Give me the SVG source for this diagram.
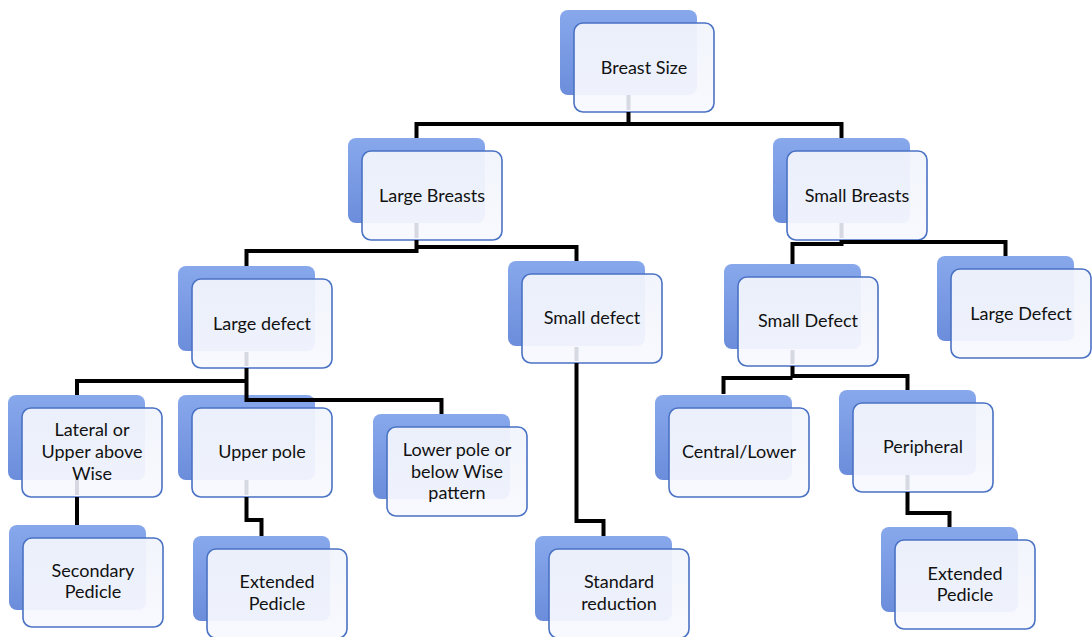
<svg xmlns="http://www.w3.org/2000/svg" width="1092" height="637" viewBox="0 0 1092 637">
<defs>
<linearGradient id="gBack" x1="0" y1="0" x2="0" y2="1">
<stop offset="0" stop-color="#88a8ec"/>
<stop offset="1" stop-color="#6b8ddb"/>
</linearGradient>
<linearGradient id="gFront" x1="0" y1="0" x2="0" y2="1">
<stop offset="0" stop-color="#f1f4fc"/>
<stop offset="1" stop-color="#f8f9fe"/>
</linearGradient>
</defs>
<style>
.back{fill:url(#gBack);}
.front{fill:url(#gFront);fill-opacity:0.94;stroke:#4a72c4;stroke-width:1.6;}
.t{font-family:Lato,"Liberation Sans",sans-serif;font-size:18px;fill:#111111;text-anchor:middle;}
.c{fill:none;stroke:#000;stroke-width:4;stroke-linejoin:miter;}
.f{fill:none;stroke:#d6d9e2;stroke-width:4;}
</style>
<rect width="1092" height="637" fill="#ffffff"/>

<g id="n-breast-size" transform="translate(574,23)">
<rect class="back" x="-14" y="-13" width="137" height="85" rx="8"/>
<rect class="front" x="0" y="0" width="140" height="89" rx="9"/>
<text class="t" x="70" y="51">Breast Size</text>
</g>
<g id="n-large-breasts" transform="translate(362,151)">
<rect class="back" x="-14" y="-13" width="137" height="85" rx="8"/>
<rect class="front" x="0" y="0" width="140" height="89" rx="9"/>
<text class="t" x="70" y="51">Large Breasts</text>
</g>
<g id="n-small-breasts" transform="translate(787,151)">
<rect class="back" x="-14" y="-13" width="137" height="85" rx="8"/>
<rect class="front" x="0" y="0" width="140" height="89" rx="9"/>
<text class="t" x="70" y="51">Small Breasts</text>
</g>
<g id="n-large-defect-l" transform="translate(192,279)">
<rect class="back" x="-14" y="-13" width="137" height="85" rx="8"/>
<rect class="front" x="0" y="0" width="140" height="89" rx="9"/>
<text class="t" x="70" y="51">Large defect</text>
</g>
<g id="n-small-defect-l" transform="translate(522,274)">
<rect class="back" x="-14" y="-13" width="137" height="85" rx="8"/>
<rect class="front" x="0" y="0" width="140" height="89" rx="9"/>
<text class="t" x="70" y="50">Small defect</text>
</g>
<g id="n-small-defect-r" transform="translate(738,277)">
<rect class="back" x="-14" y="-13" width="137" height="85" rx="8"/>
<rect class="front" x="0" y="0" width="140" height="89" rx="9"/>
<text class="t" x="70" y="50">Small Defect</text>
</g>
<g id="n-large-defect-r" transform="translate(951,269)">
<rect class="back" x="-14" y="-13" width="137" height="85" rx="8"/>
<rect class="front" x="0" y="0" width="140" height="89" rx="9"/>
<text class="t" x="70" y="51">Large Defect</text>
</g>
<g id="n-lateral" transform="translate(22,408)">
<rect class="back" x="-14" y="-13" width="137" height="85" rx="8"/>
<rect class="front" x="0" y="0" width="140" height="89" rx="9"/>
<text class="t" x="70" y="28">Lateral or</text>
<text class="t" x="70" y="50">Upper above</text>
<text class="t" x="70" y="72">Wise</text>
</g>
<g id="n-upper-pole" transform="translate(192,408)">
<rect class="back" x="-14" y="-13" width="137" height="85" rx="8"/>
<rect class="front" x="0" y="0" width="140" height="89" rx="9"/>
<text class="t" x="70" y="50">Upper pole</text>
</g>
<g id="n-lower-pole" transform="translate(387,427)">
<rect class="back" x="-14" y="-13" width="137" height="85" rx="8"/>
<rect class="front" x="0" y="0" width="140" height="89" rx="9"/>
<text class="t" x="70" y="29">Lower pole or</text>
<text class="t" x="70" y="51">below Wise</text>
<text class="t" x="70" y="72">pattern</text>
</g>
<g id="n-central-lower" transform="translate(669,408)">
<rect class="back" x="-14" y="-13" width="137" height="85" rx="8"/>
<rect class="front" x="0" y="0" width="140" height="89" rx="9"/>
<text class="t" x="70" y="50">Central/Lower</text>
</g>
<g id="n-peripheral" transform="translate(853,403)">
<rect class="back" x="-14" y="-13" width="137" height="85" rx="8"/>
<rect class="front" x="0" y="0" width="140" height="89" rx="9"/>
<text class="t" x="70" y="50">Peripheral</text>
</g>
<g id="n-secondary-pedicle" transform="translate(23,538)">
<rect class="back" x="-14" y="-13" width="137" height="85" rx="8"/>
<rect class="front" x="0" y="0" width="140" height="89" rx="9"/>
<text class="t" x="70" y="39">Secondary</text>
<text class="t" x="70" y="60">Pedicle</text>
</g>
<g id="n-extended-pedicle-l" transform="translate(207,549)">
<rect class="back" x="-14" y="-13" width="137" height="85" rx="8"/>
<rect class="front" x="0" y="0" width="140" height="89" rx="9"/>
<text class="t" x="70" y="39">Extended</text>
<text class="t" x="70" y="61">Pedicle</text>
</g>
<g id="n-standard-reduction" transform="translate(549,549)">
<rect class="back" x="-14" y="-13" width="137" height="85" rx="8"/>
<rect class="front" x="0" y="0" width="140" height="89" rx="9"/>
<text class="t" x="70" y="39">Standard</text>
<text class="t" x="70" y="61">reduction</text>
</g>
<g id="n-extended-pedicle-r" transform="translate(895,540)">
<rect class="back" x="-14" y="-13" width="137" height="85" rx="8"/>
<rect class="front" x="0" y="0" width="140" height="89" rx="9"/>
<text class="t" x="70" y="40">Extended</text>
<text class="t" x="70" y="61">Pedicle</text>
</g>

<g id="connectors">
<path class="f" d="M628.5,95 V110 M416.5,223 V238 M841.5,223 V238 M246.5,352 V366 M576.5,347 V361 M792.5,350 V364 M77,480 V495 M246.5,480 V495 M907.5,475 V490"/>
<path class="c" d="M416.5,138 V124 H841.5 V138 M628.5,112 V124"/>
<path class="c" d="M246.5,266 V251 H416.5 V240 M416.5,247 H576.5 V261"/>
<path class="c" d="M792.5,264 V244 H841.5 V240 M841.5,242 H1005.5 V256"/>
<path class="c" d="M77,395 V381 H246.5 M246.5,368 V400 H441.5 V414"/>
<path class="c" d="M576.5,363 V521 H603.5 V536"/>
<path class="c" d="M723.5,394 V378 H792.5 M792.5,366 V376 H907.5 V390"/>
<path class="c" d="M77,497 V525"/>
<path class="c" d="M246.5,497 V520 H261.5 V536"/>
<path class="c" d="M907.5,492 V513 H949.5 V527"/>
</g>
</svg>
